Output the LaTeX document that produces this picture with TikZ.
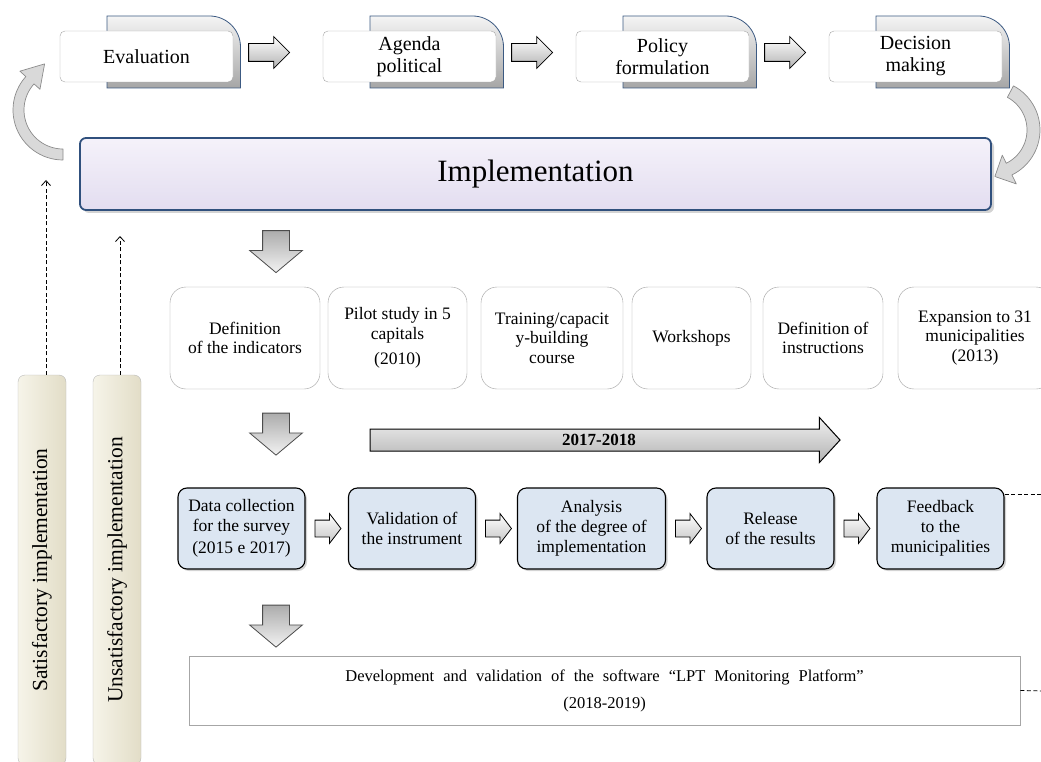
\documentclass[tikz,border=0pt]{standalone}
\usepackage{fontspec}
\setmainfont{Liberation Serif}
\usetikzlibrary{shapes.arrows,shadows,arrows.meta}

\definecolor{tabedge}{HTML}{3C5A82}
\definecolor{impledge}{HTML}{30507D}
\definecolor{impltop}{HTML}{F5F2FA}
\definecolor{implbottom}{HTML}{E3DDF0}
\definecolor{boxblue}{HTML}{DCE6F2}
\definecolor{barlight}{HTML}{F6F4E9}
\definecolor{bardark}{HTML}{E2DDC7}
\definecolor{curvefill}{HTML}{D9D9D9}
\definecolor{curveedge}{HTML}{8C8C8C}

\begin{document}
\begin{tikzpicture}[x=1pt,y=-1pt,
    tab/.style={draw=gray!70,fill=white,rounded corners=5pt,inner sep=0pt,
        minimum width=173pt,minimum height=51pt,align=center,
        font=\fontsize{20}{22}\selectfont},
    backtab/.style={draw=tabedge,line width=0.8pt,top color=gray!8,bottom color=gray!70},
    rarrow/.style={single arrow,draw=black,line width=0.8pt,top color=white,bottom color=gray!60,
        inner sep=0pt,single arrow head extend=7pt,single arrow tip angle=90,
        minimum height=41pt},
    darrow/.style={single arrow,rotate=-90,draw=gray!60!black,line width=0.8pt,
        top color=gray!65,bottom color=gray!10,inner sep=0pt,
        single arrow head extend=13pt,single arrow tip angle=100,
        minimum height=42pt},
    sarrow/.style={single arrow,draw=black,line width=0.8pt,top color=white,bottom color=gray!45,
        inner sep=0pt,single arrow head extend=6.5pt,single arrow tip angle=105,
        minimum height=26pt},
    yeararrow/.style={single arrow,draw=black,line width=1pt,top color=gray!12,bottom color=gray!60,
        inner sep=0pt,single arrow head extend=11.5pt,single arrow tip angle=95,
        minimum height=470pt},
    impl/.style={draw=impledge,line width=1.8pt,top color=impltop,bottom color=implbottom,
        rounded corners=6pt,minimum width=911pt,minimum height=72pt,
        font=\fontsize{31}{34}\selectfont,
        drop shadow={shadow xshift=3pt,shadow yshift=-3pt,opacity=0.35}},
    stepbox/.style={draw=gray!75,fill=white,rounded corners=16pt,minimum height=102pt,
        inner sep=0pt,align=center,font=\fontsize{17.5}{19.5}\selectfont},
    bluebox/.style={draw=black,line width=1.1pt,fill=boxblue,rounded corners=9pt,
        minimum width=127pt,minimum height=81pt,inner sep=0pt,align=center,
        font=\fontsize{17.5}{20}\selectfont,
        drop shadow={shadow xshift=2pt,shadow yshift=-2pt,opacity=0.35}},
    sidebar/.style={draw=gray!55,rotate=90,left color=barlight,right color=bardark,
        rounded corners=7pt,minimum width=390pt,minimum height=48pt,inner sep=0pt,
        font=\fontsize{21.5}{24}\selectfont},
    curvearrow/.style={draw=curveedge,fill=curvefill,line width=0.7pt,line join=round},
    dasharrow/.style={dash pattern=on 4pt off 2.5pt,line width=0.8pt,-{Straight Barb[length=5pt,width=9pt]}},
    dashline/.style={dash pattern=on 4pt off 2.5pt,line width=0.8pt}]

    \useasboundingbox (0,0) rectangle (1041,762);
    \clip (0,0) rectangle (1041,762);

    % Zyklus oben
    \foreach \cx in {146.5,409.5,662.5,915.5}
        \draw[backtab] ({\cx-39.5},16) -- ({\cx+63},16) to[out=0,in=90] ({\cx+94},47)
            -- ({\cx+94},88) -- ({\cx-39.5},88) -- cycle;
    \node[tab] (eval) at (146.5,56.5) {Evaluation};
    \node[tab] (agenda) at (409.5,56.5) {Agenda\\political};
    \node[tab] (policy) at (662.5,56.5) {Policy\\formulation};
    \node[tab] (decision) at (915.5,56.5) {Decision\\making};
    \node[rarrow] (evalagenda) at (eval.east) [anchor=west,xshift=15pt,yshift=4pt] {\rule{0pt}{17pt}};
    \node[rarrow] (agendapolicy) at (agenda.east) [anchor=west,xshift=15pt,yshift=4pt] {\rule{0pt}{17pt}};
    \node[rarrow] (policydecision) at (policy.east) [anchor=west,xshift=15pt,yshift=4pt] {\rule{0pt}{17pt}};

    \node[impl] (impl) at (535.5,174) {Implementation};

    % gebogene Pfeile
    \begin{scope}[shift={(63,110)}]
        \draw[curvearrow] (90:39) -- (90:50) -- plot[domain=90:222,samples=30] (\x:50)
            -- (222:58) -- (-18.4,-46.1) -- (222:31) -- plot[domain=222:90,samples=30] (\x:39) -- cycle;
    \end{scope}
    \begin{scope}[shift={(990,130)}]
        \draw[curvearrow] (-62:37) -- (-62:50) -- plot[domain=-62:64,samples=30] (\x:50)
            -- (64:60) -- (4.9,46.5) -- (64:28) -- plot[domain=64:-62,samples=30] (\x:37) -- cycle;
    \end{scope}

    % Seitenbalken
    \node[sidebar] (satbar) at (42,570) {Satisfactory implementation};
    \node[sidebar] (unsatbar) at (117,570) {Unsatisfactory implementation};
    \coordinate (sattop) at (46,180);
    \coordinate (unsattop) at (120,236);
    \draw[dasharrow] (sattop |- satbar.east) -- (sattop);
    \draw[dasharrow] (unsattop |- unsatbar.east) -- (unsattop);

    \node[darrow] (down1) at (276,246) {\rule{0pt}{26pt}};
    \node[darrow] (down2) at (276,428.5) {\rule{0pt}{26pt}};
    \node[darrow] (down3) at (276,620.5) {\rule{0pt}{26pt}};

    % erste Reihe
    \node[stepbox,minimum width=150pt] (indicators) at (245,338) {Definition\\of the indicators};
    \node[stepbox,minimum width=139pt] (pilot) at (397.5,338) {Pilot study in 5\\capitals\\[6pt](2010)};
    \node[stepbox,minimum width=142pt] (training) at (552,338) {Training/capacit\\y-building\\course};
    \node[stepbox,minimum width=119pt] (workshops) at (691.5,338) {Workshops};
    \node[stepbox,minimum width=120pt] (instructions) at (823,338) {Definition of\\instructions};
    \node[stepbox,minimum width=154pt] (expansion) at (975,338) {Expansion to 31\\municipalities\\(2013)};

    \node[yeararrow] (period) at (600,440) {\rule{0pt}{21pt}};
    \node[font=\bfseries\fontsize{17}{19}\selectfont] (periodlabel) at (599,440) {2017-2018};

    % zweite Reihe
    \node[bluebox] (collect) at (241.5,528.5) {Data collection\\for the survey\\[2pt](2015 e 2017)};
    \node[bluebox] (validation) at (412,528.5) {Validation of\\the instrument};
    \node[bluebox,minimum width=148pt] (analysis) at (591.5,528.5) {Analysis\\of the degree of\\implementation};
    \node[bluebox] (release) at (770.5,528.5) {Release\\of the results};
    \node[bluebox] (feedback) at (940.5,528.5) {Feedback\\to the\\municipalities};
    \node[sarrow] (collectvalid) at (collect.east) [anchor=west,xshift=9pt] {\rule{0pt}{16pt}};
    \node[sarrow] (validanalysis) at (validation.east) [anchor=west,xshift=9pt] {\rule{0pt}{16pt}};
    \node[sarrow] (analysisrelease) at (analysis.east) [anchor=west,xshift=9pt] {\rule{0pt}{16pt}};
    \node[sarrow] (releasefeedback) at (release.east) [anchor=west,xshift=9pt] {\rule{0pt}{16pt}};

    \node[draw=gray!70,line width=0.8pt,minimum width=831pt,minimum height=69pt,align=center,
        inner sep=0pt,font=\fontsize{16.5}{19}\selectfont] (software) at (604.5,690.5)
        {\spaceskip=9pt plus 1pt Development and validation of the software “LPT Monitoring Platform”\\[8pt](2018-2019)};

    \coordinate (fbend) at (1045,494);
    \coordinate (swend) at (1045,691);
    \draw[dashline] (fbend -| feedback.east) -- (fbend);
    \draw[dashline] (software.east) -- (swend);
\end{tikzpicture}
\end{document}
